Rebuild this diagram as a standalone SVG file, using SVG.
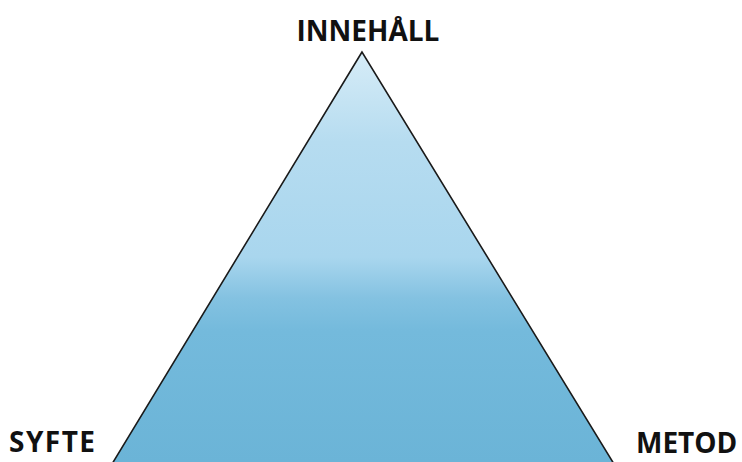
<svg xmlns="http://www.w3.org/2000/svg" width="742" height="462" viewBox="0 0 742 462">
<style>
.lbl{font-family:"Open Sans","Noto Sans","Liberation Sans",sans-serif;font-weight:bold;font-size:28px;fill:#111}
.tri{stroke:#1a1a1a;stroke-width:1.6}
</style>
<defs>
<linearGradient id="g" x1="0" y1="52" x2="0" y2="462" gradientUnits="userSpaceOnUse">
<stop offset="0" stop-color="#d6ecf7"/>
<stop offset="0.22" stop-color="#b6dcf0"/>
<stop offset="0.5" stop-color="#a9d6ee"/>
<stop offset="0.6" stop-color="#84c2e1"/>
<stop offset="0.68" stop-color="#74badc"/>
<stop offset="1" stop-color="#6bb4d7"/>
</linearGradient>
</defs>
<rect width="742" height="462" fill="#fff"/>
<g id="triangle">
<polygon class="tri" points="362,52 112,464 614,464" fill="url(#g)"/>
</g>
<g id="innehall"><text class="lbl" x="368" y="41" text-anchor="middle">INNEHÅLL</text></g>
<g id="syfte"><text class="lbl" x="9" y="452" textLength="86" lengthAdjust="spacing">SYFTE</text></g>
<g id="metod"><text class="lbl" x="636" y="453">METOD</text></g>
</svg>
